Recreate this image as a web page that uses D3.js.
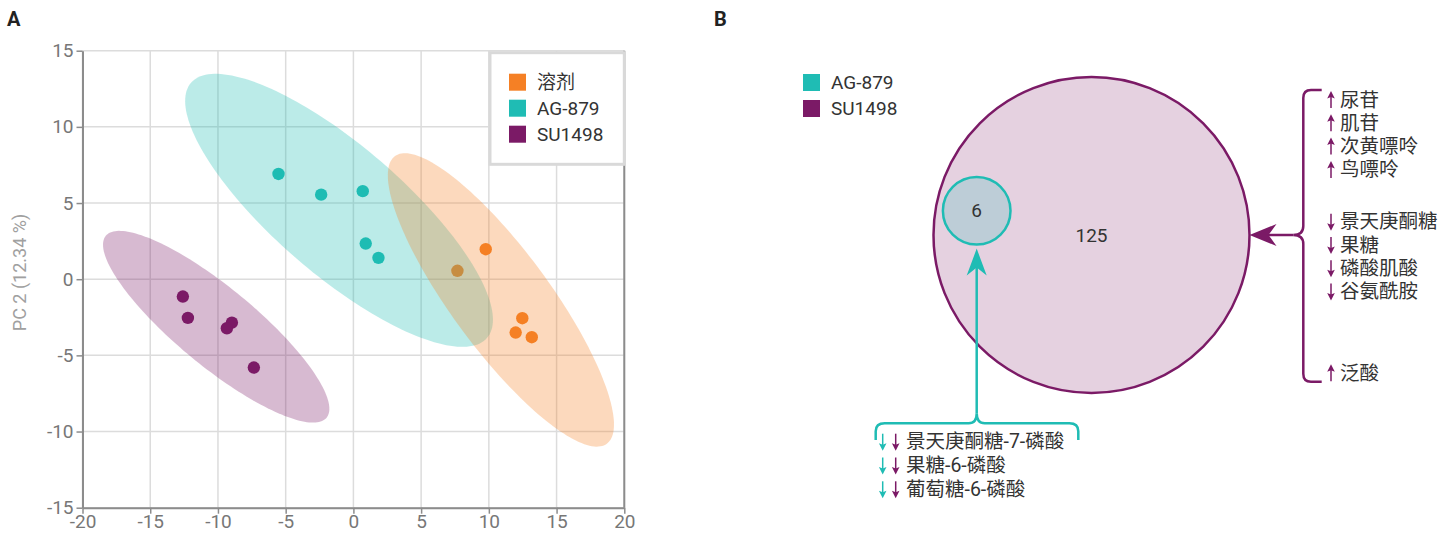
<!DOCTYPE html>
<html>
<head>
<meta charset="utf-8">
<script src="https://cdn.jsdelivr.net/npm/d3@7"></script>
<style>
  body { margin: 0; background: #fff; }
  svg { display: block; font-family: Roboto, "Noto Sans CJK SC", sans-serif; }
</style>
</head>
<body>
<svg id="chart" width="1440" height="533"></svg>
<script>
// ---- panel A data ----
const groups = ['溶剂', 'AG-879', 'SU1498'];
const groupColors = ['#f58025', '#1fbcb4', '#7b1a66'];

const solventPC1 = [9.77, 7.68, 12.47, 11.98, 13.17];
const solventPC2 = [1.97, 0.55, -2.56, -3.5, -3.81];
const agPC1 = [-5.53, -2.38, 0.69, 0.91, 1.85];
const agPC2 = [6.91, 5.55, 5.78, 2.34, 1.40];
const suPC1 = [-12.59, -12.22, -8.97, -9.34, -7.35];
const suPC2 = [-1.14, -2.54, -2.85, -3.22, -5.8];

// confidence ellipses (PC units): centre, half major axis, half minor axis
const ellipseCenter = [[10.89, -1.36], [-1.06, 4.52], [-10.13, -3.12]];
const ellipseMajor = [[7.82, -9.44], [10.93, -8.37], [8.15, -5.97]];
const ellipseMinor = [[-2.92, -1.91], [-3.10, -3.20], [-1.84, -1.99]];

const xTicks = [-20, -15, -10, -5, 0, 5, 10, 15, 20];
const yTicks = [-15, -10, -5, 0, 5, 10, 15];

// ---- panel B data ----
const vennSets = ['AG-879', 'SU1498'];
const sharedCount = 6;
const suOnlyCount = 125;
const sharedNames = ['景天庚酮糖-7-磷酸', '果糖-6-磷酸', '葡萄糖-6-磷酸'];
const sharedDir = ['down', 'down', 'down'];
const suNames = ['尿苷', '肌苷', '次黄嘌呤', '鸟嘌呤', '景天庚酮糖', '果糖', '磷酸肌酸', '谷氨酰胺', '泛酸'];
const suDir = ['up', 'up', 'up', 'up', 'down', 'down', 'down', 'down', 'up'];

const svg = d3.select('#chart');
const textColor = '#333';
const axisColor = '#8c8c8c';

// ================= Panel A =================
svg.append('text').attr('x', 7).attr('y', 26)
  .attr('font-size', 20).attr('font-weight', 700).attr('fill', '#222').text('A');

const x = d3.scaleLinear().domain([-20, 20]).range([82.5, 624.3]);
const y = d3.scaleLinear().domain([-15, 15]).range([507.7, 50.7]);

const plotA = svg.append('g');

// grid
plotA.selectAll('.vgrid').data(xTicks).enter().append('line')
  .attr('x1', d => x(d)).attr('x2', d => x(d))
  .attr('y1', y(-15)).attr('y2', y(15))
  .attr('stroke', '#dcdcdc').attr('stroke-width', 1.5);
plotA.selectAll('.hgrid').data(yTicks).enter().append('line')
  .attr('x1', x(-20)).attr('x2', x(20))
  .attr('y1', d => y(d)).attr('y2', d => y(d))
  .attr('stroke', '#dcdcdc').attr('stroke-width', 1.5);

// points first, ellipses are laid over them
const pointSets = [
  solventPC1.map((v, i) => ({ pc1: v, pc2: solventPC2[i], g: 0 })),
  agPC1.map((v, i) => ({ pc1: v, pc2: agPC2[i], g: 1 })),
  suPC1.map((v, i) => ({ pc1: v, pc2: suPC2[i], g: 2 }))
];
pointSets.forEach(pts => {
  plotA.selectAll(null).data(pts).enter().append('circle')
    .attr('cx', d => x(d.pc1)).attr('cy', d => y(d.pc2))
    .attr('r', 6.2).attr('fill', d => groupColors[d.g]);
});

// ellipses
const ellipseLine = d3.line().x(d => x(d[0])).y(d => y(d[1])).curve(d3.curveLinearClosed);
function ellipsePoints(i) {
  const c = ellipseCenter[i], a = ellipseMajor[i], b = ellipseMinor[i];
  return d3.range(0, 2 * Math.PI, Math.PI / 90).map(t => [
    c[0] + a[0] * Math.cos(t) + b[0] * Math.sin(t),
    c[1] + a[1] * Math.cos(t) + b[1] * Math.sin(t)
  ]);
}
[1, 2, 0].forEach(i => {
  plotA.append('path')
    .attr('d', ellipseLine(ellipsePoints(i)))
    .attr('fill', groupColors[i]).attr('fill-opacity', 0.3);
});

// axes
const xAxis = d3.axisBottom(x).tickValues(xTicks).tickSize(6).tickSizeOuter(0).tickPadding(1)
  .tickFormat(d => String(d));
const yAxis = d3.axisLeft(y).tickValues(yTicks).tickSize(6).tickSizeOuter(0).tickPadding(3)
  .tickFormat(d => String(d));

function styleAxis(g) {
  g.select('.domain').attr('stroke', axisColor).attr('stroke-width', 2);
  g.selectAll('.tick line').attr('stroke', axisColor).attr('stroke-width', 1.5);
  g.selectAll('.tick text').attr('fill', '#777').attr('font-size', 19)
    .attr('font-family', 'Roboto, sans-serif');
}
plotA.append('g').attr('transform', `translate(0,${y(-15)})`).call(xAxis).call(styleAxis);
plotA.append('g').attr('transform', `translate(${x(-20)},0)`).call(yAxis).call(styleAxis);
plotA.append('line')
  .attr('x1', x(20)).attr('x2', x(20)).attr('y1', y(15)).attr('y2', y(-15))
  .attr('stroke', axisColor).attr('stroke-width', 2);

svg.append('text')
  .attr('transform', 'translate(19,272.5) rotate(-90)')
  .attr('text-anchor', 'middle').attr('dominant-baseline', 'central')
  .attr('font-size', 18).attr('fill', '#a0a0a0')
  .text('PC 2 (12.34 %)');

// legend A
const legA = svg.append('g').attr('transform', 'translate(490,52.7)');
legA.append('rect').attr('width', 134.3).attr('height', 111.6)
  .attr('fill', '#fff').attr('stroke', '#d9d9d9').attr('stroke-width', 3);
groups.forEach((g, i) => {
  legA.append('rect').attr('x', 19).attr('y', 21 + i * 26).attr('width', 17).attr('height', 17)
    .attr('fill', groupColors[i]);
  legA.append('text').attr('x', 47).attr('y', 29.5 + i * 26)
    .attr('dominant-baseline', 'central').attr('font-size', 19).attr('fill', textColor).text(g);
});

// ================= Panel B =================
svg.append('text').attr('x', 714).attr('y', 26)
  .attr('font-size', 20).attr('font-weight', 700).attr('fill', '#222').text('B');

const teal = groupColors[1], purple = groupColors[2];
const r = d3.scaleSqrt().domain([0, sharedCount + suOnlyCount]).range([0, 158]);
const bigC = [1091.5, 235], smallC = [976.7, 210.8];

svg.append('circle').attr('cx', bigC[0]).attr('cy', bigC[1]).attr('r', r(sharedCount + suOnlyCount))
  .attr('fill', purple).attr('fill-opacity', 0.2).attr('stroke', purple).attr('stroke-width', 2.5);
svg.append('circle').attr('cx', smallC[0]).attr('cy', smallC[1]).attr('r', r(sharedCount))
  .attr('fill', teal).attr('fill-opacity', 0.2).attr('stroke', teal).attr('stroke-width', 2.5);
svg.append('text').attr('x', bigC[0]).attr('y', bigC[1]).attr('text-anchor', 'middle')
  .attr('dominant-baseline', 'central').attr('font-size', 19).attr('fill', textColor).text(suOnlyCount);
svg.append('text').attr('x', smallC[0]).attr('y', smallC[1]).attr('text-anchor', 'middle')
  .attr('dominant-baseline', 'central').attr('font-size', 19).attr('fill', textColor).text(sharedCount);

// legend B
const legB = svg.append('g').attr('transform', 'translate(803,74)');
vennSets.forEach((s, i) => {
  legB.append('rect').attr('y', i * 26).attr('width', 17).attr('height', 17).attr('fill', [teal, purple][i]);
  legB.append('text').attr('x', 28).attr('y', 8.5 + i * 26)
    .attr('dominant-baseline', 'central').attr('font-size', 19).attr('fill', textColor).text(s);
});

// purple bracket + arrow to SU1498 circle
const bx = 1303.3, bTop = 90, bBot = 381.7, bMid = bigC[1];
svg.append('path')
  .attr('d', `M1321.7,${bTop} H1311 Q${bx},${bTop} ${bx},${bTop + 8} V${bMid - 9}
    Q${bx},${bMid} ${bx - 10},${bMid} Q${bx},${bMid} ${bx},${bMid + 9}
    V${bBot - 8} Q${bx},${bBot} 1311,${bBot} H1321.7`)
  .attr('fill', 'none').attr('stroke', purple).attr('stroke-width', 2.5);
svg.append('line').attr('x1', bx - 10).attr('x2', 1266).attr('y1', bMid).attr('y2', bMid)
  .attr('stroke', purple).attr('stroke-width', 2.5);
const tipR = bigC[0] + r(sharedCount + suOnlyCount);
svg.append('path')
  .attr('d', `M${tipR},${bMid} L${tipR + 27},${bMid - 11} L${tipR + 19},${bMid} L${tipR + 27},${bMid + 11} Z`)
  .attr('fill', purple);

// teal bracket + arrow to shared circle
const tx = smallC[0], tY = 423.3, tL = 875.7, tRgt = 1078.3, tEnd = 440;
svg.append('path')
  .attr('d', `M${tL},${tEnd} V${tY + 8} Q${tL},${tY} ${tL + 9},${tY} H${tx - 8}
    Q${tx},${tY} ${tx},${tY - 10} Q${tx},${tY} ${tx + 8},${tY}
    H${tRgt - 9} Q${tRgt},${tY} ${tRgt},${tY + 8} V${tEnd}`)
  .attr('fill', 'none').attr('stroke', teal).attr('stroke-width', 2.5);
const tipT = smallC[1] + r(sharedCount) + 4;
svg.append('line').attr('x1', tx).attr('x2', tx).attr('y1', tY - 10).attr('y2', tipT + 18)
  .attr('stroke', teal).attr('stroke-width', 2.5);
svg.append('path')
  .attr('d', `M${tx},${tipT} L${tx - 10},${tipT + 27} L${tx},${tipT + 19} L${tx + 10},${tipT + 27} Z`)
  .attr('fill', teal);

// small up/down arrows
function smallArrow(g, ax, ay, dir, color) {
  const s = dir === 'up' ? -1 : 1;
  g.append('line').attr('x1', ax).attr('x2', ax).attr('y1', ay - 8 * s).attr('y2', ay + 5 * s)
    .attr('stroke', color).attr('stroke-width', 1.5);
  g.append('path')
    .attr('d', `M${ax},${ay + 9 * s} L${ax - 3.8},${ay + 1.5 * s} L${ax},${ay + 3 * s} L${ax + 3.8},${ay + 1.5 * s} Z`)
    .attr('fill', color);
}

// SU1498-only list
const suBlock = [0, 0, 0, 0, 1, 1, 1, 1, 2];
const blockStart = [100, 221.7, 373.3];
const rowStep = 23.3;
const listB = svg.append('g');
suNames.forEach((n, i) => {
  const b = suBlock[i];
  const k = suBlock.indexOf(b);
  const yy = blockStart[b] + (i - k) * rowStep;
  smallArrow(listB, 1331, yy, suDir[i], purple);
  listB.append('text').attr('x', 1340).attr('y', yy).attr('dominant-baseline', 'central')
    .attr('font-size', 19.5).attr('fill', textColor).text(n);
});

// shared list
sharedNames.forEach((n, i) => {
  const yy = 441.7 + i * 23.8;
  smallArrow(listB, 882.7, yy, sharedDir[i], teal);
  smallArrow(listB, 895.7, yy, sharedDir[i], purple);
  listB.append('text').attr('x', 906).attr('y', yy).attr('dominant-baseline', 'central')
    .attr('font-size', 19.5).attr('fill', textColor).text(n);
});
</script>
</body>
</html>
